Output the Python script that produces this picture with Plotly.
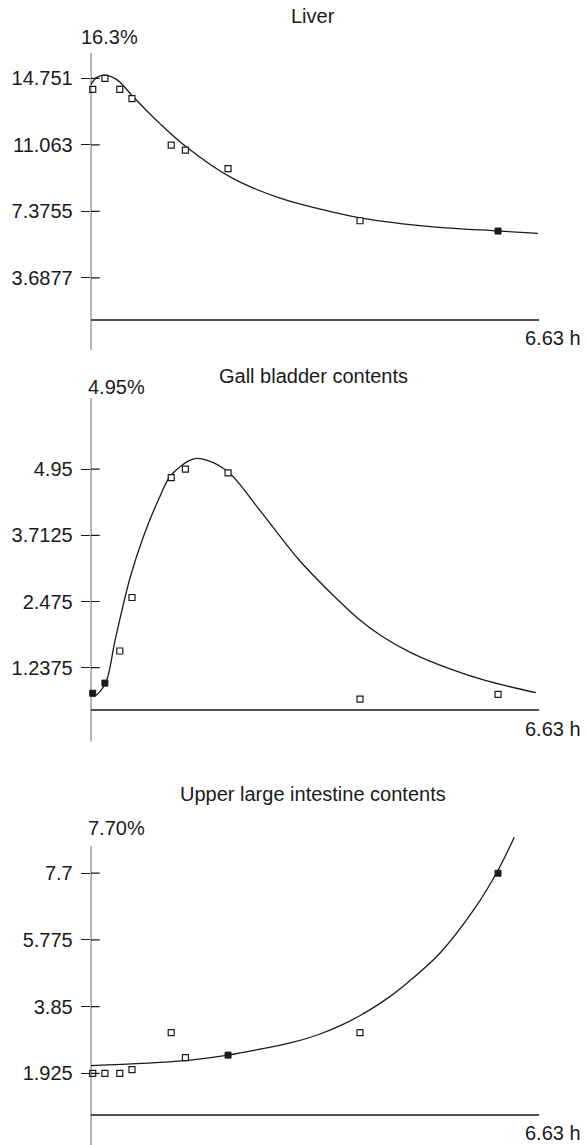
import plotly.graph_objects as go

W, H = 586, 1145

# Sampling times (h) shared by all three compartments
hours = [0.03, 0.21, 0.43, 0.61, 1.19, 1.40, 2.03, 3.98, 6.02]
t_end = 6.63

# Observed activity (% of dose)
liver_obs = [14.14, 14.751, 14.14, 13.62, 11.05, 10.77, 9.74, 6.85, 6.28]
gall_obs = [0.76, 0.95, 1.55, 2.55, 4.79, 4.95, 4.88, 0.65, 0.74]
uli_obs = [1.925, 1.925, 1.925, 2.03, 3.10, 2.375, 2.45, 3.10, 7.70]

# Indices of samples drawn as filled squares
liver_filled = [8]
gall_filled = [0, 1]
uli_filled = [6, 8]

# Fitted model curves
liver_fit_t = [0, 0.09, 0.20, 0.32, 0.43, 0.61, 1.02, 1.41, 2.10, 2.80, 3.39, 4.00, 5.02, 6.04, 6.61]
liver_fit = [14.40, 14.80, 14.93, 14.82, 14.55, 13.80, 12.25, 10.96, 9.20, 8.10, 7.50, 7.00, 6.53, 6.28, 6.15]

gall_fit_t = [0, 0.06, 0.22, 0.36, 0.58, 0.78, 1.02, 1.19, 1.52, 1.71, 2.03, 2.50, 3.08, 3.56, 3.96, 4.31, 4.73, 5.30, 5.83, 6.58]
gall_fit = [0.73, 0.71, 0.95, 1.75, 2.91, 3.69, 4.43, 4.84, 5.14, 5.12, 4.90, 4.18, 3.25, 2.62, 2.15, 1.82, 1.52, 1.22, 1.00, 0.77]

uli_fit_t = [0, 1.39, 2.03, 2.50, 2.95, 3.35, 3.69, 3.97, 4.32, 4.67, 5.16, 5.66, 6.01, 6.26]
uli_fit = [2.145, 2.29, 2.45, 2.62, 2.80, 3.03, 3.30, 3.58, 4.00, 4.52, 5.39, 6.64, 7.75, 8.74]

# Axis ticks and labels
liver_ticks = [3.6877, 7.3755, 11.063, 14.751]
gall_ticks = [1.2375, 2.475, 3.7125, 4.95]
uli_ticks = [1.925, 3.85, 5.775, 7.7]
tick_text = {
    "liver": ["3.6877", "7.3755", "11.063", "14.751"],
    "gall": ["1.2375", "2.475", "3.7125", "4.95"],
    "uli": ["1.925", "3.85", "5.775", "7.7"],
}
titles = ["Liver", "Gall bladder contents", "Upper large intestine contents"]
max_labels = ["16.3%", "4.95%", "7.70%"]
time_label = "6.63 h"

INK = "#1a1a1a"
FONT = "Liberation Sans, Arial, sans-serif"
FS = 20

# Pixel layout of each panel
X0_PX, X1_PX = 90.7, 539.3
panels = [
    dict(key="liver", obs=liver_obs, filled=liver_filled, ft=liver_fit_t, fv=liver_fit,
         ticks=liver_ticks, zero=344.3, unit=66.5 / 3.6877, top=52.7, bot=350, xline=320,
         title_y=16, max_y=37, max_x=79, t_y=338),
    dict(key="gall", obs=gall_obs, filled=gall_filled, ft=gall_fit_t, fv=gall_fit,
         ticks=gall_ticks, zero=733.9, unit=66.2 / 1.2375, top=398.3, bot=741.7, xline=710,
         title_y=376, max_y=387, max_x=86, t_y=729),
    dict(key="uli", obs=uli_obs, filled=uli_filled, ft=uli_fit_t, fv=uli_fit,
         ticks=uli_ticks, zero=1140, unit=66.7 / 1.925, top=846, bot=1145, xline=1115,
         title_y=794, max_y=828, max_x=86, t_y=1133),
]

fig = go.Figure()
shapes, annotations = [], []
layout = dict(
    width=W, height=H, margin=dict(l=0, r=0, t=0, b=0),
    paper_bgcolor="white", plot_bgcolor="white", showlegend=False,
    font=dict(family=FONT, size=FS, color=INK),
)

for i, p in enumerate(panels):
    n = "" if i == 0 else str(i + 1)
    xa, ya = "x" + n, "y" + n
    dom_top = p["top"] - 25
    dom_bot = p["bot"]
    y_rng = [(p["zero"] - dom_bot) / p["unit"], (p["zero"] - dom_top) / p["unit"]]

    layout["xaxis" + n] = dict(
        domain=[X0_PX / W, X1_PX / W], range=[0, t_end], anchor=ya,
        showline=False, showgrid=False, zeroline=False, showticklabels=False, ticks="",
    )
    layout["yaxis" + n] = dict(
        domain=[1 - dom_bot / H, 1 - dom_top / H], range=y_rng, anchor=xa,
        showline=False, showgrid=False, zeroline=False,
        tickmode="array", tickvals=p["ticks"], ticktext=tick_text[p["key"]],
        ticks="outside", ticklen=9, tickwidth=1.2, tickcolor=INK,
        tickfont=dict(family=FONT, size=FS, color=INK), ticklabelstandoff=4,
    )

    # fitted curve
    fig.add_trace(go.Scatter(
        x=p["ft"], y=p["fv"], mode="lines", xaxis=xa, yaxis=ya,
        line=dict(color=INK, width=1.3, shape="spline", smoothing=1.0),
        hoverinfo="skip",
    ))
    # observations
    open_x = [t for k, t in enumerate(hours) if k not in p["filled"]]
    open_y = [v for k, v in enumerate(p["obs"]) if k not in p["filled"]]
    fill_x = [hours[k] for k in p["filled"]]
    fill_y = [p["obs"][k] for k in p["filled"]]
    fig.add_trace(go.Scatter(
        x=open_x, y=open_y, mode="markers", xaxis=xa, yaxis=ya, cliponaxis=False,
        marker=dict(symbol="square", size=6, color="white", line=dict(color=INK, width=1.2)),
    ))
    fig.add_trace(go.Scatter(
        x=fill_x, y=fill_y, mode="markers", xaxis=xa, yaxis=ya, cliponaxis=False,
        marker=dict(symbol="square", size=6, color=INK, line=dict(color=INK, width=1)),
    ))

    # vertical axis line
    shapes.append(dict(
        type="line", xref=xa, yref=ya, x0=0, x1=0,
        y0=(p["zero"] - p["bot"]) / p["unit"], y1=(p["zero"] - p["top"]) / p["unit"],
        line=dict(color=INK, width=1.3), layer="above",
    ))
    # horizontal time axis line
    y_x = (p["zero"] - p["xline"]) / p["unit"]
    shapes.append(dict(
        type="line", xref=xa, yref=ya, x0=0, x1=t_end, y0=y_x, y1=y_x,
        line=dict(color=INK, width=1.3), layer="above",
    ))
    # inner half of the crossing tick marks
    for tv in p["ticks"]:
        shapes.append(dict(
            type="line", xref=xa, yref=ya, xsizemode="pixel", xanchor=0,
            x0=0, x1=9, y0=tv, y1=tv, line=dict(color=INK, width=1.2),
        ))

    annotations += [
        dict(text=titles[i], xref="paper", yref="paper", x=313 / W, y=1 - p["title_y"] / H,
             xanchor="center", yanchor="middle", showarrow=False, font=dict(size=FS)),
        dict(text=max_labels[i], xref="paper", yref="paper", x=p["max_x"] / W, y=1 - p["max_y"] / H,
             xanchor="left", yanchor="middle", showarrow=False, font=dict(size=FS)),
        dict(text=time_label, xref="paper", yref="paper", x=583 / W, y=1 - p["t_y"] / H,
             xanchor="right", yanchor="middle", showarrow=False, font=dict(size=FS)),
    ]

layout["shapes"] = shapes
layout["annotations"] = annotations
fig.update_layout(**layout)
fig.write_html("out.html")
